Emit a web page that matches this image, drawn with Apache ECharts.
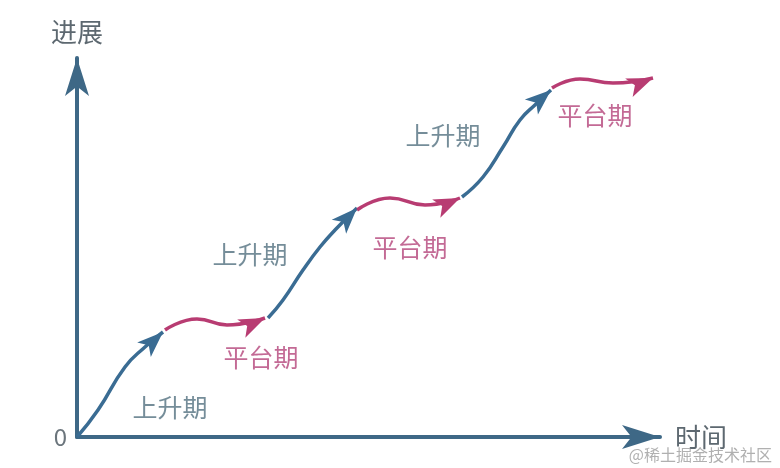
<!DOCTYPE html>
<html>
<head>
<meta charset="utf-8">
<script src="https://cdn.jsdelivr.net/npm/echarts@6/dist/echarts.min.js"></script>
<style>html,body{margin:0;padding:0;background:#fff;}#c{width:780px;height:468px;}</style>
</head>
<body>
<div id="c"></div>
<script>
// Curve control points (x = time, y = progress); last point of each is the arrow tip
const rise1 = [[0,0],[21,27],[48,70],[68,90],[86,105]];
const plateau1 = [[88,107],[120,118],[150,112],[188,119]];
const rise2 = [[191,119],[206,137],[226,167],[243,190],[258,207],[280,229]];
const plateau2 = [[280,227],[313,239],[348,232],[383,239]];
const rise3 = [[385,240],[406,260],[426,290],[443,317],[459,333],[474,347]];
const plateau3 = [[475,349],[503,358],[536,354],[576,359]];
// Phase labels and their anchor points
const riseLabel = '上升期';
const plateauLabel = '平台期';
const riseLabelAnchors = [[93,30],[173,183],[366,302]];
const plateauLabelAnchors = [[184,80],[333,190],[518,322]];
const xName = '时间';
const yName = '进展';
const originLabel = '0';
const watermark = '@稀土掘金技术社区';

const BLUE = '#3a6c93';
const MAGENTA = '#b83c72';
const FONT = '"Noto Sans CJK SC", "Noto Sans", sans-serif';

function curve(points, color) {
  return {
    type: 'line',
    data: points,
    smooth: 0.5,
    symbol: 'none',
    clip: false,
    silent: true,
    lineStyle: { color: color, width: 3.5 },
    z: 3
  };
}

function arrowHead(points, color, rot) {
  return {
    type: 'scatter',
    data: [points[points.length - 1]],
    symbol: 'arrow',
    symbolSize: [15, 26],
    symbolRotate: rot,
    itemStyle: { color: color, opacity: 1 },
    clip: false,
    silent: true,
    z: 4
  };
}

function labels(anchors, text, color) {
  return {
    type: 'scatter',
    data: anchors,
    symbolSize: 1,
    itemStyle: { color: 'rgba(0,0,0,0)' },
    silent: true,
    clip: false,
    label: {
      show: true, position: 'inside', formatter: text,
      color: color, fontSize: 25, fontFamily: FONT
    }
  };
}

const chart = echarts.init(document.getElementById('c'));
chart.setOption({
  animation: false,
  backgroundColor: '#fff',
  grid: { left: 77, top: 58, width: 583, height: 379 },
  xAxis: {
    type: 'value', min: 0, max: 583,
    name: xName, nameLocation: 'end', nameGap: 15,
    nameTextStyle: { color: '#5d6870', fontSize: 26, fontFamily: FONT },
    axisLine: { show: true, lineStyle: { color: '#3e6886', width: 4 }, symbol: ['none', 'arrow'], symbolSize: [18, 38] },
    axisTick: { show: false }, axisLabel: { show: false }, splitLine: { show: false }
  },
  yAxis: {
    type: 'value', min: 0, max: 379, interval: 379,
    name: yName, nameLocation: 'end', nameGap: 13,
    nameTextStyle: { color: '#5d6870', fontSize: 26, fontFamily: FONT },
    axisLine: { show: true, lineStyle: { color: '#3e6886', width: 4 }, symbol: ['none', 'arrow'], symbolSize: [18, 38] },
    axisTick: { show: false },
    axisLabel: { show: true, margin: 10, color: '#6b757c', fontSize: 24, fontFamily: FONT,
      formatter: v => v === 0 ? originLabel : '' },
    splitLine: { show: false }
  },
  graphic: [{
    type: 'text', right: 8, bottom: 5,
    style: { text: watermark, fill: 'rgba(150,150,150,0.75)', fontSize: 16, fontFamily: FONT }
  }],
  series: [
    curve(rise1, BLUE), arrowHead(rise1, BLUE, -47),
    curve(plateau1, MAGENTA), arrowHead(plateau1, MAGENTA, -66),
    curve(rise2, BLUE), arrowHead(rise2, BLUE, -44),
    curve(plateau2, MAGENTA), arrowHead(plateau2, MAGENTA, -66),
    curve(rise3, BLUE), arrowHead(rise3, BLUE, -49),
    curve(plateau3, MAGENTA), arrowHead(plateau3, MAGENTA, -68),
    labels(riseLabelAnchors, riseLabel, '#52707f'),
    labels(plateauLabelAnchors, plateauLabel, '#b4457a')
  ]
});
</script>
</body>
</html>
